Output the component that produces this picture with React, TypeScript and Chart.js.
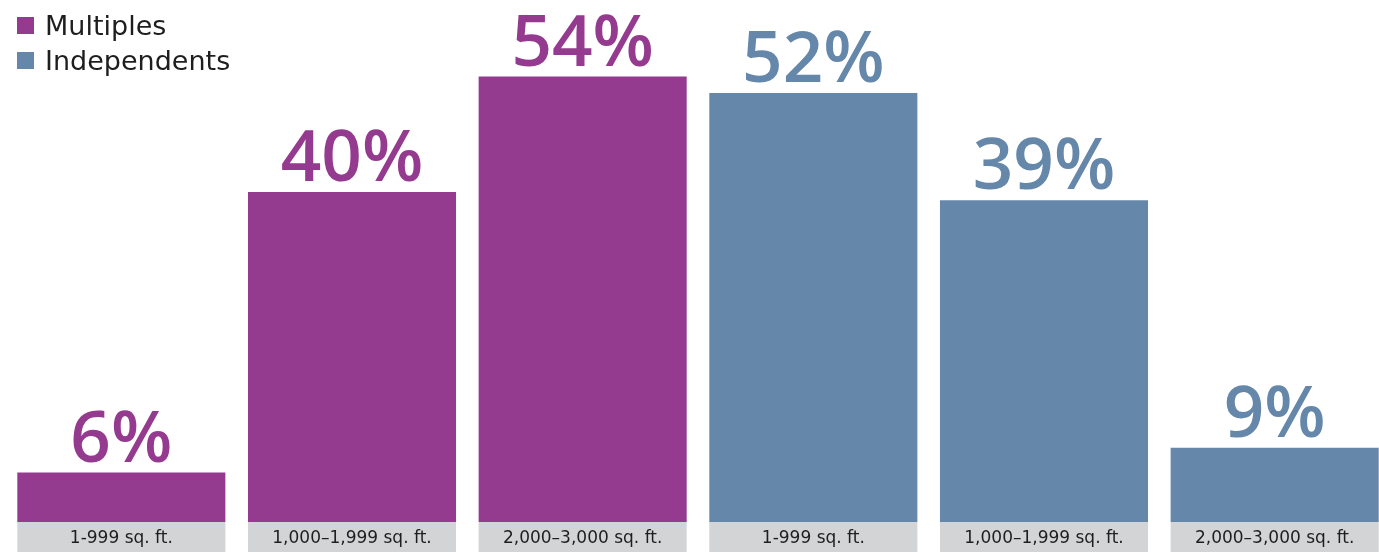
import React, { useEffect, useRef } from "react";
import { Chart, registerables } from "chart.js";

Chart.register(...registerables);

const sizeBands = ["1-999 sq. ft.", "1,000–1,999 sq. ft.", "2,000–3,000 sq. ft."];
const seriesNames = ["Multiples", "Independents"];
const multiples = [6, 40, 54];
const independents = [52, 39, 9];
const seriesColors = ["#943b8f", "#6587aa"];

const FONT = "'Open Sans', 'Noto Sans', sans-serif";
const WIDE = "'DejaVu Sans', 'Open Sans', sans-serif";

const overlayPlugin = {
  id: "overlay",
  afterDatasetsDraw(chart: any) {
    const ctx = chart.ctx;
    const area = chart.chartArea;
    const h = chart.height;
    ctx.save();
    chart.data.datasets.forEach((ds: any, di: number) => {
      const meta = chart.getDatasetMeta(di);
      meta.data.forEach((el: any, i: number) => {
        const v = ds.data[i];
        if (v === null || v === undefined) return;
        const props = el.getProps(["x", "y", "width"], true);
        const left = props.x - props.width / 2;
        // gray label box
        ctx.fillStyle = "#d3d4d6";
        ctx.fillRect(left, area.bottom, props.width, h - area.bottom);
        ctx.fillStyle = "#1e1e1e";
        ctx.font = `400 17px ${WIDE}`;
        ctx.textAlign = "center";
        ctx.textBaseline = "middle";
        ctx.fillText(chart.data.labels[i], props.x, area.bottom + 17);
        // value label
        ctx.fillStyle = ds.backgroundColor;
        ctx.font = `600 71px ${FONT}`;
        ctx.textBaseline = "alphabetic";
        ctx.fillText(`${v}%`, props.x, props.y - 11);
      });
    });
    // legend
    ctx.textAlign = "left";
    ctx.textBaseline = "alphabetic";
    ctx.font = `400 27px ${WIDE}`;
    chart.data.datasets.forEach((ds: any, di: number) => {
      const y = 17 + di * 35;
      ctx.fillStyle = ds.backgroundColor;
      ctx.fillRect(17, y, 17, 17);
      ctx.fillStyle = "#1e1e1e";
      ctx.fillText(ds.label, 45, y + 18);
    });
    ctx.restore();
  },
};

export default function App() {
  const ref = useRef<HTMLCanvasElement | null>(null);
  useEffect(() => {
    if (!ref.current) return;
    const labels = [...sizeBands, ...sizeBands];
    const pad = sizeBands.map(() => null);
    const chart = new Chart(ref.current, {
      type: "bar",
      data: {
        labels,
        datasets: [
          {
            label: seriesNames[0],
            data: [...multiples, ...pad],
            backgroundColor: seriesColors[0],
            categoryPercentage: 1,
            barPercentage: 0.902,
            grouped: false,
          },
          {
            label: seriesNames[1],
            data: [...pad, ...independents],
            backgroundColor: seriesColors[1],
            categoryPercentage: 1,
            barPercentage: 0.902,
            grouped: false,
          },
        ] as any,
      },
      options: {
        responsive: false,
        animation: false,
        layout: { padding: { left: 6, right: 0, top: 27, bottom: 30 } },
        plugins: { legend: { display: false }, tooltip: { enabled: false } },
        scales: {
          x: { display: false, offset: true },
          y: { display: false, min: 0, max: 60 },
        },
      },
      plugins: [overlayPlugin],
    });
    return () => chart.destroy();
  }, []);
  return (
    <div style={{ position: "fixed", left: 0, top: 0, width: 1379, height: 552, overflow: "hidden", background: "#fff" }}>
      <canvas ref={ref} width={1390} height={552} style={{ display: "block" }} />
    </div>
  );
}
